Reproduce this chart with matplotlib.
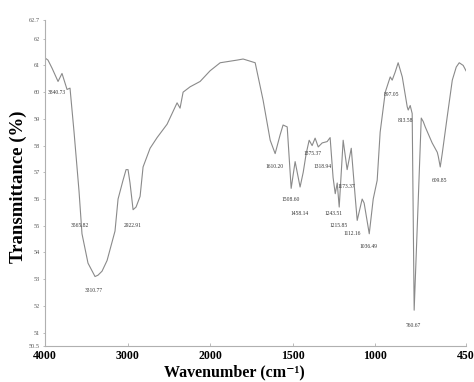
import numpy as np
import matplotlib
matplotlib.use("Agg")
import matplotlib.pyplot as plt
from matplotlib.ticker import FixedLocator, FixedFormatter

# Spectrum trace (wavenumber cm-1, transmittance %)
wavenumber = [4000, 3964, 3915, 3842, 3794, 3733, 3697, 3648, 3588, 3552, 3479, 3394, 3358,
              3309, 3248, 3152, 3115, 3055, 3018, 2994, 2970, 2933, 2897, 2848, 2812, 2727,
              2642, 2521, 2400, 2364, 2327, 2242, 2121, 2000, 1939, 1836, 1800, 1727, 1679,
              1636, 1606, 1576, 1558, 1533, 1509, 1485, 1455, 1436, 1418, 1400, 1382, 1364,
              1345, 1321, 1291, 1273, 1255, 1242, 1230, 1218, 1194, 1170, 1145, 1121, 1109,
              1079, 1067, 1036, 1012, 988, 970, 939, 909, 897, 879, 861, 836, 806, 800, 788,
              776, 764, 739, 721, 709, 697, 655, 624, 618, 606, 594, 564, 533, 509, 491, 467,
              450]
transmittance = [61.28, 61.2, 60.9, 60.4, 60.7, 60.1, 60.15, 58.5, 56.3, 54.7, 53.6, 53.1,
                 53.15, 53.3, 53.7, 54.8, 56.0, 56.7, 57.1, 57.1, 56.6, 55.6, 55.7, 56.1, 57.2,
                 57.9, 58.3, 58.8, 59.6, 59.4, 60.0, 60.2, 60.4, 60.8, 61.1, 61.2, 61.24, 61.1,
                 59.7, 58.2, 57.7, 58.4, 58.77, 58.7, 56.4, 57.4, 56.45, 57.0, 57.7, 58.2, 58.0,
                 58.28, 57.95, 58.1, 58.15, 58.3, 56.8, 56.2, 56.6, 55.7, 58.2, 57.1, 57.9,
                 56.07, 55.2, 56.0, 55.85, 54.7, 56.0, 56.7, 58.5, 60.0, 60.57, 60.45, 60.75,
                 61.1, 60.57, 59.45, 59.33, 59.5, 59.2, 51.84, 56.0, 59.03, 58.9, 58.7, 58.1,
                 57.75, 57.6, 57.2, 57.7, 59.07, 60.45, 60.94, 61.1, 61.0, 60.8]

# Peak annotations: label text, x position (cm-1), y position (%)
peak_labels = ["3840.73", "3565.82", "3310.77", "2922.91", "1610.20", "1508.60", "1458.14",
               "1375.37", "1318.94", "1243.51", "1215.85", "1173.37", "1112.16", "1036.49",
               "897.05", "813.58", "760.67", "609.85"]
peak_label_x = [3964, 3576, 3406, 2933, 1612, 1509, 1461, 1382, 1321, 1255, 1224, 1176,
                1139, 1042, 903, 818, 770, 612]
peak_label_y = [59.97, 55.02, 52.59, 55.02, 57.23, 56.0, 55.47, 57.72, 57.23, 55.47, 55.02,
                56.48, 54.72, 54.24, 59.93, 58.95, 51.28, 56.7]

x_ticks = [4000, 3000, 2000, 1500, 1000, 450]
y_ticks = [50.5, 51, 52, 53, 54, 55, 56, 57, 58, 59, 60, 61, 62, 62.7]
y_tick_labels = ["50.5", "51", "52", "53", "54", "55", "56", "57", "58", "59", "60", "61",
                 "62", "62.7"]


def fwd(w):
    w = np.asarray(w, dtype=float)
    return np.where(w > 2000, 2000 + (w - 2000) / 2.0, w)


def inv(u):
    u = np.asarray(u, dtype=float)
    return np.where(u > 2000, 2000 + (u - 2000) * 2.0, u)


serif = ["Liberation Serif", "DejaVu Serif"]

fig = plt.figure(figsize=(4.74, 3.82), dpi=100)
ax = fig.add_axes([45 / 474, 1 - 346 / 382, 421 / 474, 326 / 382])
ax.set_xscale("function", functions=(fwd, inv))
ax.plot(wavenumber, transmittance, color="#8a8a8a", lw=0.8)
ax.set_xlim(4000, 450)
ax.set_ylim(50.5, 62.7)

for s in ["top", "right"]:
    ax.spines[s].set_visible(False)
for s in ["left", "bottom"]:
    ax.spines[s].set_color("#b0b0b0")
    ax.spines[s].set_linewidth(0.8)

ax.xaxis.set_major_locator(FixedLocator(x_ticks))
ax.xaxis.set_major_formatter(FixedFormatter([str(t) for t in x_ticks]))
ax.xaxis.set_minor_locator(FixedLocator([]))
ax.yaxis.set_major_locator(FixedLocator(y_ticks))
ax.yaxis.set_major_formatter(FixedFormatter(y_tick_labels))
ax.tick_params(axis="x", direction="in", length=2, width=0.6, color="#b0b0b0", pad=3,
               labelsize=8.5)
ax.tick_params(axis="y", direction="out", length=1.5, width=0.6, color="#b0b0b0", pad=2,
               labelsize=4.5, labelcolor="#555555")
for lab in ax.get_xticklabels():
    lab.set_fontfamily(serif)
    lab.set_fontweight("bold")
for lab in ax.get_yticklabels():
    lab.set_fontfamily(serif)

for t, x, y in zip(peak_labels, peak_label_x, peak_label_y):
    ha = "left" if t == "3840.73" else "center"
    ax.text(x, y, t, fontsize=4, family=serif, color="#333333", ha=ha, va="center")

fig.text(18 / 474, 1 - 187 / 382, "Transmittance (%)", rotation=90, ha="center",
         va="center", fontsize=13.5, fontweight="bold", family=serif)
fig.text(234 / 474, 1 - 372 / 382, "Wavenumber (cm\u207b\u00b9)", ha="center",
         va="center", fontsize=11.5, fontweight="bold", family=serif)

fig.savefig("out.png", dpi=100, facecolor="white")
